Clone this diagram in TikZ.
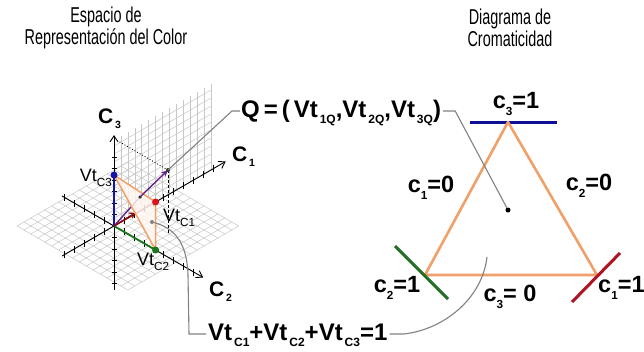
\documentclass[tikz,border=0pt]{standalone}
\usepackage{fontspec}
\setmainfont{Liberation Sans}
\newfontfamily\ttlfont{Liberation Sans}[FakeStretch=0.67]
\usetikzlibrary{arrows.meta}
\newcommand\sub[2][0.5]{\raisebox{-0.28em}{\scalebox{#1}{#2}}}
\definecolor{triorange}{RGB}{240,160,105}
\definecolor{trifill}{RGB}{255,246,240}
\definecolor{connc}{RGB}{130,130,130}
\definecolor{vblue}{RGB}{20,20,170}
\definecolor{vred}{RGB}{220,20,25}
\definecolor{vgreen}{RGB}{25,120,30}
\definecolor{vpurple}{RGB}{105,35,140}
\definecolor{barblue}{RGB}{15,15,150}
\definecolor{bargreen}{RGB}{35,110,35}
\definecolor{barred}{RGB}{175,20,35}
\begin{document}
\begin{tikzpicture}[x=1pt,y=-1pt,
  grd/.style={draw=black!22, line width=0.5pt},
  axisline/.style={line width=0.9pt, black},
  tickmark/.style={line width=0.7pt, black},
  conn/.style={draw=connc, line width=1.1pt},
  blab/.style={font=\fontsize{24}{24}\selectfont\bfseries, inner sep=0pt},
  clab/.style={font=\fontsize{23.5}{24}\selectfont\bfseries, inner sep=0pt},
  axlab/.style={font=\fontsize{21}{21}\selectfont\bfseries, inner sep=0pt},
  vlab/.style={font=\fontsize{18}{18}\selectfont, inner sep=0pt},
  ttl/.style={font=\ttlfont\fontsize{21.5}{22}\selectfont, align=center, inner sep=0pt},
  dotn/.style={circle, inner sep=0pt, minimum size=#1},
]
\useasboundingbox (0,0) rectangle (644,351);
\fill[white] (0,0) rectangle (644,351);

% titles
\node[ttl] (t1) at (106,28) {Espacio de\\Representación del Color};
\node[ttl] (t2) at (510,28) {Diagrama de\\Cromaticidad};

% ---------- 3D colour space ----------
\coordinate (O) at (114,226);
\begin{scope}[shift={(O)}, x={(0.866pt,0.5pt)}, y={(0.866pt,-0.5pt)}, z={(0pt,1pt)}]
  % horizontal grid
  \foreach \i in {-56,-48,...,72} {
    \draw[grd] (\i,-56,0) -- (\i,72,0);
    \draw[grd] (-56,\i,0) -- (72,\i,0);
  }
  % vertical grid (C1-C3 plane)
  \foreach \i in {0,8,...,112} \draw[grd] (\i,0,0) -- (\i,0,86);
  \foreach \k in {8,16,...,80} \draw[grd] (0,0,\k) -- (112,0,\k);
  % axes
  \coordinate (c1neg) at (-60,0,0);
  \coordinate (c1pos) at (129,0,0);
  \coordinate (c2neg) at (0,-60,0);
  \coordinate (c2pos) at (0,103,0);
  \coordinate (c3neg) at (0,0,-64);
  \coordinate (c3pos) at (0,0,91);
  \coordinate (V1) at (48,0,0);
  \coordinate (V2) at (0,48,0);
  \coordinate (V3) at (0,0,51);
  \foreach \k in {-5,...,-1,1,2,...,10}
    \draw[tickmark] ({\k*11.5},0,-3.5) -- ({\k*11.5},0,3.5);
  \foreach \k in {-5,...,-1,1,2,...,8}
    \draw[tickmark] (0,{\k*11.5},-3.5) -- (0,{\k*11.5},3.5);
  \foreach \k in {-5,...,-1,1,2,...,6}
    \draw[tickmark] ([xshift=-2.5pt]0,0,{\k*11.5}) -- ([xshift=2.5pt]0,0,{\k*11.5});
\end{scope}
\draw[axisline, -{Straight Barb[length=6pt,width=8pt]}] (c1neg) -- (c1pos);
\draw[axisline, -{Straight Barb[length=6pt,width=8pt]}] (c2neg) -- (c2pos);
\draw[axisline, -{Straight Barb[length=6pt,width=8pt]}] (c3neg) -- (c3pos);

\coordinate (Q) at (168,170);
\coordinate (Qv) at (168,234);
\coordinate (Qz) at (118,141);
\coordinate (P) at (140,197);
\coordinate (B) at (152,222);
\coordinate (R1) at (135,213);

\draw[black, dotted, line width=0.9pt] (Q) -- (Qz);
\draw[black, dashed, line width=0.8pt, dash pattern=on 3pt off 2pt] (Q) -- (Qv);

% vectors
\draw[vblue, line width=1.8pt] (O) -- (V3);
\draw[vgreen, line width=1.8pt] (O) -- (V2);
\draw[vred!70!black, line width=1.4pt] (O) -- (V1);
\draw[vpurple, line width=1.4pt] (O) -- (P);
\draw[vred!60!black, line width=1.2pt, -{Straight Barb[length=4pt,width=6pt]}] (O) -- (R1);

% triangle in 3D
\filldraw[fill=trifill, fill opacity=0.85, draw=triorange, line width=1.5pt, line join=round] (V1) -- (V2) -- (V3) -- cycle;
\draw[vpurple, line width=1.4pt, -{Stealth[length=7pt,width=6pt]}] (P) -- (Q);

\node[dotn=7pt, fill=vblue] (d3) at (V3) {};
\node[dotn=7pt, fill=vred] (d1) at (V1) {};
\node[dotn=7pt, fill=vgreen] (d2) at (V2) {};
\node[dotn=4pt, fill=black!80] (dq) at (Q) {};
\node[dotn=3.5pt, fill=black!80] (dp) at (P) {};
\node[dotn=4pt, fill=connc] (db) at (B) {};

% axis labels
\node[axlab, anchor=base west] (lc3) at (98,123) {C\sub[0.5]{\,3}};
\node[axlab, anchor=base west] (lc1) at (232,161) {C\sub[0.5]{\,1}};
\node[axlab, anchor=base west] (lc2) at (209,296) {C\sub[0.5]{\,2}};
\node[vlab, anchor=base east] (lv3) at (112,181) {Vt\sub[0.65]{C3}};
\node[vlab, anchor=base west] (lv1) at (163,221) {Vt\sub[0.65]{C1}};
\node[vlab, anchor=base west] (lv2) at (137,265) {Vt\sub[0.65]{C2}};

% ---------- chromaticity diagram ----------
\coordinate (T) at (508,122);
\coordinate (L) at (425,275);
\coordinate (Rr) at (597,275);
\draw[barblue, line width=3pt] (470,122) -- (557,122);
\draw[triorange, line width=2.6pt, line join=round] (T) -- (L) -- (Rr) -- cycle;
\draw[bargreen, line width=3pt] (395,246) -- (448,299);
\draw[barred, line width=3pt] (572,302) -- (620,253);
\node[dotn=5pt, fill=black] (dd) at (508,210) {};

\node[clab] (k31) at (516,104) {c\sub{3}=1};
\node[clab] (k10) at (431,188) {c\sub{1}=0};
\node[clab] (k20) at (589,186) {c\sub{2}=0};
\node[clab] (k21) at (397,288) {c\sub{2}=1};
\node[clab] (k30) at (510,297) {c\sub{3}= 0};
\node[clab, anchor=west] (k11) at (598,288) {c\sub{1}=1};

% ---------- labels and connectors ----------
\node[blab, anchor=base west] (qlab) at (241,117) {Q\,=\,(\,Vt\kern0.08em\sub{1Q},Vt\kern0.08em\sub{2Q},Vt\kern0.08em\sub{3Q})};
\node[blab, anchor=base west] (slab) at (208,340) {Vt\kern0.08em\sub{C1}+Vt\kern0.08em\sub{C2}+Vt\kern0.08em\sub{C3}=1};

\coordinate (qa) at (232,111);
\coordinate (qb) at ([xshift=-1pt]qlab.west |- qa);
\coordinate (qc) at ([xshift=2pt]qlab.east |- qa);
\coordinate (qd) at ([xshift=12pt]qc);
\draw[conn] (Q) -- (qa) -- (qb);
\draw[conn] (qc) -- (qd) -- (dd);

\coordinate (sa) at (189,334);
\coordinate (sb) at ([xshift=-2pt]slab.west |- sa);
\coordinate (sc) at ([xshift=2pt]slab.east |- sa);
\coordinate (sd) at ([xshift=14pt]sc);
\coordinate (se) at (487,257);
\draw[conn] (db) .. controls (174,228) and (187,242) .. (188,275) -- (sa) -- (sb);
\draw[conn] (sc) -- (sd) .. controls (442,330) and (482,300) .. (se);
\end{tikzpicture}
\end{document}
